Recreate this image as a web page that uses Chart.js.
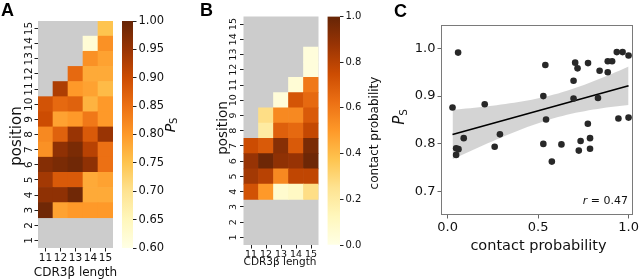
<!DOCTYPE html>
<html><head><meta charset="utf-8">
<script src="https://cdn.jsdelivr.net/npm/chart.js@4/dist/chart.umd.min.js"></script>
<style>
html,body{margin:0;padding:0;background:#fff;}
#wrap{position:relative;width:640px;height:279px;overflow:hidden;}
canvas{position:absolute;left:0;top:0;}
.t{position:absolute;white-space:nowrap;color:#111;font-family:"DejaVu Sans";line-height:1;transform:translate(-50%,-50%);}
.r{transform:translate(-50%,-50%) rotate(-90deg);}
.L{position:absolute;font-family:"Liberation Sans",Arial,sans-serif;font-weight:bold;font-size:18px;line-height:1;color:#000;}
sub{font-size:70%;vertical-align:-0.25em;font-style:normal;}
</style></head>
<body>
<div id="wrap">
<canvas id="hA" width="640" height="279"></canvas>
<canvas id="cbA" width="640" height="279"></canvas>
<canvas id="hB" width="640" height="279"></canvas>
<canvas id="cbB" width="640" height="279"></canvas>
<canvas id="sc" width="640" height="279"></canvas>

<div class="L" style="left:1px;top:1px;">A</div>
<div class="L" style="left:200px;top:1px;">B</div>
<div class="L" style="left:394px;top:2px;">C</div>

<div class="t r" style="left:15.5px;top:136px;font-size:15px;">position</div>
<div class="t" style="left:75.5px;top:272px;font-size:12px;">CDR3β length</div>
<div class="t r" style="left:171px;top:125px;font-size:14px;"><i>P</i><sub>S</sub></div>

<div class="t r" style="left:222.5px;top:128px;font-size:13.5px;">position</div>
<div class="t" style="left:280px;top:261px;font-size:10.5px;">CDR3β length</div>
<div class="t r" style="left:373.5px;top:133px;font-size:12px;">contact probability</div>

<div class="t r" style="left:400px;top:117px;font-size:15px;"><i>P</i><sub>S</sub></div>
<div class="t" style="left:538.5px;top:245px;font-size:14.5px;">contact probability</div>
<div class="t" style="left:628px;top:200px;font-size:11px;transform:translate(-100%,-50%);"><i>r</i> = 0.47</div>
</div>
<script>
// ---------- data ----------
const lengths = ['11','12','13','14','15'];
const positions = [1,2,3,4,5,6,7,8,9,10,11,12,13,14,15];

// Panel A: P_S by CDR3β length, indexed by position 1..15 (null = no data)
const psL11 = [null,null,0.99,0.96,0.94,0.97,0.81,0.82,0.90,0.89,null,null,null,null,null];
const psL12 = [null,null,0.79,0.96,0.88,0.98,0.96,0.87,0.79,0.86,0.93,null,null,null,null];
const psL13 = [null,null,0.80,0.99,0.88,0.99,0.98,0.95,0.80,0.87,0.80,0.86,null,null,null];
const psL14 = [null,null,0.80,0.78,0.78,0.96,0.92,0.88,0.84,0.77,0.79,0.78,0.81,0.62,null];
const psL15 = [null,null,0.80,0.78,0.79,0.85,0.85,0.95,0.80,0.80,0.76,0.78,0.79,0.81,0.75];

// Panel B: contact probability by CDR3β length, indexed by position 1..15
const cpL11 = [null,null,null,0.73,0.85,0.88,0.75,null,null,null,null,null,null,null,null];
const cpL12 = [null,null,null,0.50,0.80,0.98,0.70,0.20,0.27,null,null,null,null,null,null];
const cpL13 = [null,null,null,0.07,0.55,0.90,0.92,0.68,0.55,0.04,null,null,null,null,null];
const cpL14 = [null,null,null,0.10,0.78,0.88,0.70,0.65,0.55,0.72,0.05,null,null,null,null];
const cpL15 = [null,null,null,0.27,0.78,0.98,0.95,0.77,0.70,0.65,0.60,0.03,0.03,null,null];

// Colorbar ticks
const cbTicksA = [0.60,0.65,0.70,0.75,0.80,0.85,0.90,0.95,1.00];
const cbTicksB = [0.0,0.2,0.4,0.6,0.8,1.0];

// Panel C scatter
const scX = [0.027,0.058,0.047,0.060,0.047,0.089,0.205,0.260,0.289,0.529,0.540,0.544,0.529,0.576,0.629,0.696,0.705,0.718,0.696,0.776,0.775,0.735,0.725,0.787,0.787,0.840,0.831,0.885,0.909,0.885,0.935,0.967,1.000,0.944,1.000];
const scY = [0.876,0.991,0.791,0.789,0.777,0.812,0.883,0.794,0.820,0.900,0.965,0.851,0.800,0.763,0.799,0.932,0.970,0.958,0.895,0.969,0.842,0.806,0.786,0.812,0.790,0.953,0.896,0.973,0.973,0.950,0.992,0.992,0.985,0.853,0.855];
const cTicksX = [0.0,0.5,1.0];
const cTicksY = [0.7,0.8,0.9,1.0];

// ---------- helpers ----------
Chart.defaults.font.family = 'DejaVu Sans';
const YlOrBr = ['#ffffe5','#fff7bc','#fee391','#fec44f','#fe9929','#ec7014','#cc4c02','#993404','#662506'];
const cmapRGB = YlOrBr.map(h=>[1,3,5].map(i=>parseInt(h.substr(i,2),16)));
function cmap(t){
  t=Math.max(0,Math.min(1,t)); const s=t*8; const i=Math.min(7,Math.floor(s)); const f=s-i;
  const a=cmapRGB[i], b=cmapRGB[i+1];
  return 'rgb('+a.map((v,k)=>Math.round(v+(b[k]-v)*f)).join(',')+')';
}
const bgPlugin = {id:'bg', beforeDatasetsDraw(c){const a=c.chartArea; const x=c.ctx; x.save(); x.fillStyle='#cccccc'; x.fillRect(a.left,a.top,a.width,a.height); x.restore();}};
const TXT='#111', TCK='#222';

function makeHeatmap(id, cols, vmin, vmax, area, o){
  const datasets = positions.map((p,pi)=>({
    data: cols.map(c=>c[pi]==null?null:[p-0.5,p+0.5]),
    backgroundColor: cols.map(c=>c[pi]==null?'rgba(0,0,0,0)':cmap((c[pi]-vmin)/(vmax-vmin))),
    borderWidth:0, grouped:false, barPercentage:1, categoryPercentage:1
  }));
  new Chart(document.getElementById(id),{
    type:'bar', data:{labels:lengths, datasets},
    options:{responsive:false, animation:false, devicePixelRatio:1,
      layout:{padding:{left:area.l-o.yW, right:640-area.r, top:area.t, bottom:279-area.b-o.xH}},
      plugins:{legend:{display:false}, tooltip:{enabled:false}},
      scales:{
        x:{type:'category', offset:true, grid:{offset:false, drawOnChartArea:false, tickLength:3.5, color:TCK, tickColor:TCK},
           border:{display:false}, ticks:{font:{size:o.tf}, color:TXT, padding:o.xp, maxRotation:0, minRotation:0, autoSkip:false},
           afterFit:s=>{s.height=o.xH;}},
        y:{type:'linear', min:0.5, max:15.5, afterBuildTicks:s=>{s.ticks=positions.map(v=>({value:v}));},
           grid:{drawOnChartArea:false, tickLength:3.5, color:TCK, tickColor:TCK}, border:{display:false},
           ticks:{font:{size:o.tf}, color:TXT, padding:o.yp, minRotation:90, maxRotation:90, crossAlign:'center', autoSkip:false, callback:v=>String(v)},
           afterFit:s=>{s.width=o.yW;}}
      }},
    plugins:[bgPlugin]
  });
}
function makeColorbar(id, vmin, vmax, ticks, dec, area, o){
  new Chart(document.getElementById(id),{
    type:'bar',
    data:{labels:[''], datasets:[{data:[[vmin,vmax]], borderWidth:0, barPercentage:1, categoryPercentage:1,
      backgroundColor:(ctx)=>{const ch=ctx.chart; const a=ch.chartArea; if(!a) return YlOrBr[4];
        const g=ch.ctx.createLinearGradient(0,a.bottom,0,a.top); YlOrBr.forEach((c,i)=>g.addColorStop(i/8,c)); return g;}}]},
    options:{responsive:false, animation:false, devicePixelRatio:1,
      layout:{padding:{left:area.l, right:640-area.r-o.yW, top:area.t, bottom:279-area.b}},
      plugins:{legend:{display:false}, tooltip:{enabled:false}},
      scales:{
        x:{display:false},
        y:{position:'right', min:vmin, max:vmax, afterBuildTicks:s=>{s.ticks=ticks.map(v=>({value:v}));},
           ticks:{callback:v=>v.toFixed(dec), font:{size:o.tf}, color:TXT, padding:2, autoSkip:false},
           grid:{drawOnChartArea:false, tickLength:3.5, color:TCK, tickColor:TCK}, border:{display:false},
           afterFit:s=>{s.width=o.yW;}}
      }}
  });
}

makeHeatmap('hA',[psL11,psL12,psL13,psL14,psL15],0.6,1.0,{l:38,r:113,t:21,b:248},{yW:30,xH:16,tf:10.5,xp:0,yp:-1});
makeColorbar('cbA',0.6,1.0,cbTicksA,2,{l:122,r:133,t:21,b:248},{yW:40,tf:11.5});
makeHeatmap('hB',[cpL11,cpL12,cpL13,cpL14,cpL15],0.0,1.0,{l:243.5,r:318.5,t:16.5,b:245},{yW:30,xH:16,tf:9.5,xp:0,yp:0});
makeColorbar('cbB',0.0,1.0,cbTicksB,1,{l:327.5,r:340,t:16.5,b:245},{yW:30,tf:10});

// ---------- Panel C ----------
const n=scX.length;
const mx=scX.reduce((a,b)=>a+b,0)/n, my=scY.reduce((a,b)=>a+b,0)/n;
let sxx=0,sxy=0; for(let i=0;i<n;i++){sxx+=(scX[i]-mx)**2; sxy+=(scX[i]-mx)*(scY[i]-my);}
const slope=sxy/sxx, icpt=my-slope*mx;
let sse=0; for(let i=0;i<n;i++){sse+=(scY[i]-icpt-slope*scX[i])**2;}
const sres=Math.sqrt(sse/(n-2)), tcrit=2.035;
const x0=Math.min(...scX), x1=Math.max(...scX);
const upper=[], lower=[], fit=[];
for(let k=0;k<=40;k++){
  const x=x0+(x1-x0)*k/40, yh=icpt+slope*x, h=tcrit*sres*Math.sqrt(1/n+(x-mx)**2/sxx);
  upper.push({x, y:yh+h}); lower.push({x, y:yh-h});
}
fit.push({x:x0,y:icpt+slope*x0},{x:x1,y:icpt+slope*x1});

const boxPlugin={id:'box', afterDraw(c){const a=c.chartArea; const x=c.ctx; x.save(); x.strokeStyle='#7a7a7a'; x.lineWidth=1;
  x.strokeRect(Math.round(a.left)+0.5,Math.round(a.top)+0.5,Math.round(a.width)-1,Math.round(a.height)-1); x.restore();}};

new Chart(document.getElementById('sc'),{
  type:'scatter',
  data:{datasets:[
    {type:'scatter', data:scX.map((x,i)=>({x,y:scY[i]})), pointRadius:3.3, backgroundColor:'#282828', borderWidth:0},
    {type:'line', data:fit, borderColor:'#000', borderWidth:1.7, pointRadius:0, fill:false},
    {type:'line', data:upper, borderColor:'rgba(0,0,0,0)', borderWidth:0, pointRadius:0, fill:'+1', backgroundColor:'rgba(0,0,0,0.17)'},
    {type:'line', data:lower, borderColor:'rgba(0,0,0,0)', borderWidth:0, pointRadius:0, fill:false}
  ]},
  options:{responsive:false, animation:false, devicePixelRatio:1,
    layout:{padding:{left:441-40, right:640-636, top:25, bottom:279-215-20}},
    plugins:{legend:{display:false}, tooltip:{enabled:false}},
    scales:{
      x:{type:'linear', min:-0.0366, max:1.0273, afterBuildTicks:s=>{s.ticks=cTicksX.map(v=>({value:v}));},
         ticks:{callback:v=>v.toFixed(1), font:{size:13}, color:TXT, padding:1},
         grid:{drawOnChartArea:false, tickLength:3.5, color:'#666', tickColor:'#666'}, border:{display:false},
         afterFit:s=>{s.height=20;}},
      y:{type:'linear', min:0.6513, max:1.0487, afterBuildTicks:s=>{s.ticks=cTicksY.map(v=>({value:v}));},
         ticks:{callback:v=>v.toFixed(1), font:{size:13}, color:TXT, padding:2},
         grid:{drawOnChartArea:false, tickLength:3.5, color:'#666', tickColor:'#666'}, border:{display:false},
         afterFit:s=>{s.width=40;}}
    }},
  plugins:[boxPlugin]
});
</script>
</body></html>
